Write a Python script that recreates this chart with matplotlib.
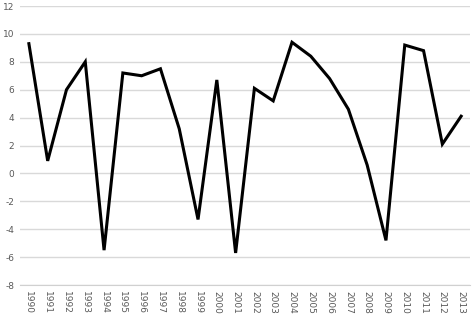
import matplotlib
matplotlib.use("Agg")
import matplotlib.pyplot as plt

years = [str(y) for y in range(1990, 2014)]
values = [9.3, 0.9, 6.0, 8.0, -5.5, 7.2, 7.0, 7.5, 3.2, -3.3, 6.7, -5.7,
          6.1, 5.2, 9.4, 8.4, 6.8, 4.6, 0.6, -4.8, 9.2, 8.8, 2.1, 4.1]
yticks = list(range(-8, 13, 2))

fig = plt.figure(figsize=(4.73, 3.16), dpi=100)
ax = fig.add_axes([0.042, 0.098, 0.952, 0.883])
x = list(range(len(years)))
ax.plot(x, values, color="black", lw=2.2, solid_joinstyle="miter")
ax.set_xlim(-0.48, len(years) - 0.52)
ax.set_ylim(-8, 12)
ax.set_yticks(yticks)
ax.set_yticklabels([str(t) for t in yticks])
ax.set_xticks(x)
ax.set_xticklabels(years, rotation=270)
ax.grid(axis="y", color="#d9d9d9", lw=1)
ax.set_axisbelow(True)
for s in ["top", "right", "left"]:
    ax.spines[s].set_visible(False)
ax.spines["bottom"].set_color("#d0d0d0")
ax.tick_params(axis="both", length=0, labelsize=6.5, colors="#595959", pad=4)
fig.savefig("out.png", dpi=100)
